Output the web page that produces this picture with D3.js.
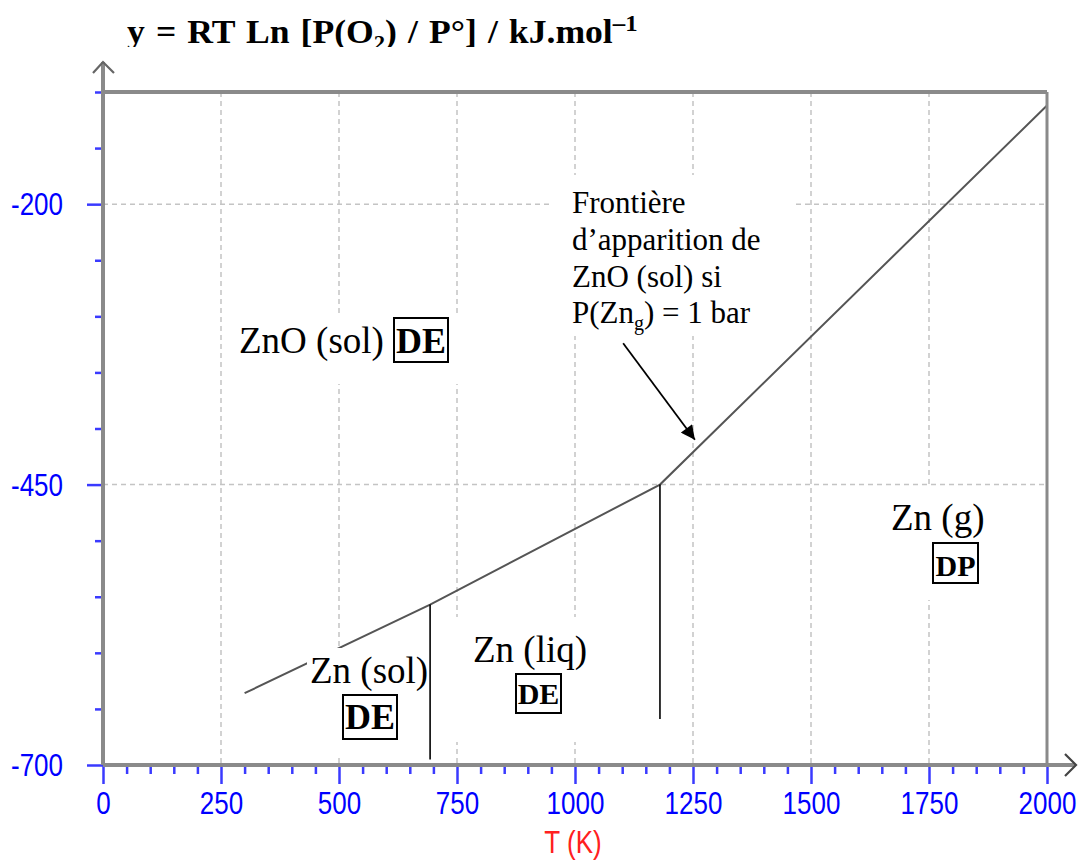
<!DOCTYPE html>
<html>
<head>
<meta charset="utf-8">
<script src="https://cdn.jsdelivr.net/npm/d3@7/dist/d3.min.js"></script>
<style>
  html, body { margin: 0; padding: 0; background: #fff; }
  svg { display: block; }
</style>
</head>
<body>
<svg id="chart" width="1079" height="862"></svg>
<script>
// ---------------- data ----------------
const tempK   = [300, 693, 1180, 2000];          // T (K)
const rtLnP   = [-636, -557, -450, -112];        // y = RT Ln[P(O2)/P°] (kJ/mol)
const boundaryT      = [693, 1180];              // vertical phase boundaries
const boundaryTop    = [-557, -450];
const boundaryBottom = [-695, -659];
const xMajorTicks = [0, 250, 500, 750, 1000, 1250, 1500, 1750, 2000];
const yMajorTicks = [-700, -450, -200];
const xGridTicks  = [250, 500, 750, 1000, 1250, 1500, 1750];
const yGridTicks  = [-450, -200];
const regionNames = ["ZnO (sol)", "Zn (sol)", "Zn (liq)", "Zn (g)"];
const regionTags  = ["DE", "DE", "DE", "DP"];
const noteLines   = ["Frontière", "d\u2019apparition de", "ZnO (sol) si", "P(Zn|g|) = 1 bar"];
const arrowFromT = 1102, arrowFromY = -324, arrowToT = 1254, arrowToY = -410;
const xTitle = "T (K)";

// ---------------- layout ----------------
const svg = d3.select("#chart");
const defs = svg.append("defs");
const x = d3.scaleLinear().domain([0, 2000]).range([103, 1047]);
const y = d3.scaleLinear().domain([-700, -100]).range([765, 92]);
const serif = "'Liberation Serif', 'Times New Roman', serif";
const sans  = "'Liberation Sans', Arial, sans-serif";
const axisGray = "#8a8a8a";
const tickBlue = "#3a3aff";
const fmt = d => String(d);   // plain hyphen minus like the original

// gridlines
svg.append("g").selectAll("line").data(xGridTicks).join("line")
  .attr("x1", d => x(d)).attr("x2", d => x(d))
  .attr("y1", y(-100)).attr("y2", y(-700))
  .attr("stroke", "#c4c4c4").attr("stroke-width", 1.5).attr("stroke-dasharray", "5,4");
svg.append("g").selectAll("line").data(yGridTicks).join("line")
  .attr("x1", x(0)).attr("x2", x(2000))
  .attr("y1", d => y(d)).attr("y2", d => y(d))
  .attr("stroke", "#c4c4c4").attr("stroke-width", 1.5).attr("stroke-dasharray", "5,4");

// data line
const pts = tempK.map((t, i) => [t, rtLnP[i]]);
svg.append("path")
  .attr("d", d3.line().x(d => x(d[0])).y(d => y(d[1]))(pts))
  .attr("fill", "none").attr("stroke", "#555").attr("stroke-width", 2);

// label layouts (pixels)
const regionLayout = [
  { bg: [232, 316, 240, 68],  tx: 239, ty: 353, fs: 37, box: [394, 318, 54, 44], tfs: 36, tby: 353 },
  { bg: [307, 648, 123, 108], tx: 310, ty: 683, fs: 37, box: [343, 695, 54, 44], tfs: 36, tby: 729 },
  { bg: [455, 617, 140, 125], tx: 473, ty: 662, fs: 37, box: [516, 674, 45, 39], tfs: 30, tby: 704 },
  { bg: [878, 488, 125, 112], tx: 891, ty: 530, fs: 37, box: [933, 543, 45, 40], tfs: 30, tby: 576 }
];
const noteLayout = { bg: [549, 175, 246, 161], tx: 572, ty: [213, 250, 287, 323], fs: 31 };

// white text-box backgrounds
const bgs = regionLayout.map(l => l.bg).concat([noteLayout.bg]);
svg.append("g").selectAll("rect").data(bgs).join("rect")
  .attr("x", d => d[0]).attr("y", d => d[1]).attr("width", d => d[2]).attr("height", d => d[3])
  .attr("fill", "#fff");

// frame (top and right)
svg.append("line").attr("x1", x(0)).attr("x2", x(2000)).attr("y1", y(-100)).attr("y2", y(-100))
  .attr("stroke", axisGray).attr("stroke-width", 4);
svg.append("line").attr("x1", x(2000)).attr("x2", x(2000)).attr("y1", y(-100)).attr("y2", y(-700))
  .attr("stroke", axisGray).attr("stroke-width", 3);

// axes ticks via d3 axes
const xMinor = d3.range(0, 2001, 50).filter(v => v % 250 !== 0);
const yMinor = d3.range(-700, -99, 50).filter(v => (v + 700) % 250 !== 0);

const gxMinor = svg.append("g").attr("transform", `translate(0,${y(-700)})`)
  .call(d3.axisBottom(x).tickValues(xMinor).tickSize(9).tickFormat(""));
const gxMajor = svg.append("g").attr("transform", `translate(0,${y(-700)})`)
  .call(d3.axisBottom(x).tickValues(xMajorTicks).tickSize(19).tickFormat(fmt));
const gyMinor = svg.append("g").attr("transform", `translate(${x(0)},0)`)
  .call(d3.axisLeft(y).tickValues(yMinor).tickSize(8).tickFormat(""));
const gyMajor = svg.append("g").attr("transform", `translate(${x(0)},0)`)
  .call(d3.axisLeft(y).tickValues(yMajorTicks).tickSize(16).tickFormat(fmt));

[gxMinor, gxMajor, gyMinor, gyMajor].forEach(g => {
  g.select(".domain").remove();
  g.selectAll(".tick line").attr("stroke", tickBlue).attr("stroke-width", 2.5);
});
gxMajor.selectAll(".tick text")
  .attr("x", 0).attr("y", 0).attr("dy", null)
  .attr("transform", "translate(0,49) scale(1,1.18)")
  .attr("fill", "#0000ff").attr("font-family", sans).attr("font-size", 26)
  .attr("text-anchor", "middle");
gyMajor.selectAll(".tick text")
  .attr("x", 0).attr("y", 0).attr("dy", null)
  .attr("transform", "translate(-40,10.5) scale(1,1.18)")
  .attr("fill", "#0000ff").attr("font-family", sans).attr("font-size", 26)
  .attr("text-anchor", "end");
gxMinor.selectAll(".tick line").attr("y1", 2);

// axis lines with arrows
svg.append("line").attr("x1", x(0)).attr("x2", x(0)).attr("y1", y(-700)).attr("y2", 62)
  .attr("stroke", axisGray).attr("stroke-width", 4);
svg.append("line").attr("x1", x(0)).attr("x2", 1075).attr("y1", y(-700)).attr("y2", y(-700))
  .attr("stroke", axisGray).attr("stroke-width", 4);
svg.append("path").attr("d", `M${x(0) - 10},73 L${x(0)},62 L${x(0) + 11},73`)
  .attr("fill", "none").attr("stroke", "#666").attr("stroke-width", 2.2);
svg.append("path").attr("d", `M1065,${y(-700) - 11} L1076,${y(-700)} L1065,${y(-700) + 11}`)
  .attr("fill", "none").attr("stroke", "#444").attr("stroke-width", 2.2);

// vertical phase boundaries
svg.append("g").selectAll("line").data(boundaryT).join("line")
  .attr("x1", d => x(d)).attr("x2", d => x(d))
  .attr("y1", (d, i) => y(boundaryTop[i])).attr("y2", (d, i) => y(boundaryBottom[i]))
  .attr("stroke", "#000").attr("stroke-width", 1.6);

// region labels
regionNames.forEach((name, i) => {
  const l = regionLayout[i];
  svg.append("text").attr("x", l.tx).attr("y", l.ty)
    .attr("font-family", serif).attr("font-size", l.fs).attr("fill", "#000").text(name);
  svg.append("rect").attr("x", l.box[0]).attr("y", l.box[1]).attr("width", l.box[2]).attr("height", l.box[3])
    .attr("fill", "none").attr("stroke", "#000").attr("stroke-width", 2);
  svg.append("text").attr("x", l.box[0] + l.box[2] / 2).attr("y", l.tby)
    .attr("text-anchor", "middle").attr("font-family", serif).attr("font-weight", "bold")
    .attr("font-size", l.tfs).attr("fill", "#000").text(regionTags[i]);
});

// annotation
noteLines.forEach((line, i) => {
  const t = svg.append("text").attr("x", noteLayout.tx).attr("y", noteLayout.ty[i])
    .attr("font-family", serif).attr("font-size", noteLayout.fs).attr("fill", "#000");
  const parts = line.split("|");
  if (parts.length === 3) {
    t.append("tspan").text(parts[0]);
    t.append("tspan").attr("font-size", 20).attr("dy", 7).text(parts[1]);
    t.append("tspan").attr("dy", -7).text(parts[2]);
  } else {
    t.text(line);
  }
});

// arrow
defs.append("marker")
  .attr("id", "ah").attr("viewBox", "0 0 10 10").attr("refX", 10).attr("refY", 5)
  .attr("markerWidth", 16).attr("markerHeight", 14).attr("markerUnits", "userSpaceOnUse")
  .attr("orient", "auto")
  .append("path").attr("d", "M0,0 L10,5 L0,10 z").attr("fill", "#000");
svg.append("line")
  .attr("x1", x(arrowFromT)).attr("y1", y(arrowFromY))
  .attr("x2", x(arrowToT)).attr("y2", y(arrowToY))
  .attr("stroke", "#000").attr("stroke-width", 1.8)
  .attr("marker-end", "url(#ah)");

// title (clipped at bottom like the original)
defs.append("clipPath").attr("id", "titleClip")
  .append("rect").attr("x", 0).attr("y", 0).attr("width", 1079).attr("height", 47);
const titleG = svg.append("g").attr("clip-path", "url(#titleClip)");
const title = titleG.append("text")
  .attr("transform", "translate(127,43) scale(1.08,1)")
  .attr("font-family", serif).attr("font-weight", "bold").attr("font-size", 33).attr("fill", "#000")
  .attr("word-spacing", 2);
title.append("tspan").text("y = RT Ln [P(O");
title.append("tspan").attr("font-size", 21).attr("dy", 7).text("2");
title.append("tspan").attr("dy", -7).text(") / P\u00b0] / kJ.mol");
title.append("tspan").attr("font-size", 23).attr("dy", -12).text("\u20131");

// x axis title
svg.append("text").attr("transform", "translate(573,853) scale(1,1.18)")
  .attr("text-anchor", "middle").attr("font-family", sans).attr("font-size", 26)
  .attr("fill", "#ff2020").text(xTitle);
</script>
</body>
</html>
